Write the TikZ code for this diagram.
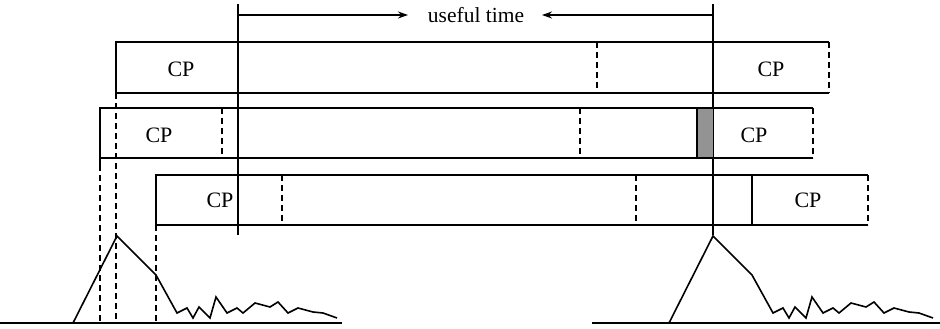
\documentclass[tikz,border=0pt]{standalone}
\usepackage{fontspec}
\setmainfont{Liberation Serif}
\usetikzlibrary{arrows.meta}
\begin{document}
\begin{tikzpicture}[x=1pt,y=-1pt,
  frame/.style={line width=1.3pt},
  marker/.style={line width=1.7pt},
  cut/.style={line width=1.3pt,dash pattern=on 6pt off 4pt},
  cplabel/.style={font=\fontsize{22}{22}\selectfont,inner sep=0pt},
  wave/.style={line width=1.6pt,line join=miter},
  tip/.style={-{Stealth[length=10pt,width=7pt,inset=3.5pt]}}]
\useasboundingbox (0,0) rectangle (940,329);

% time markers bounding the useful part of the symbol
\draw[marker] (238,4) coordinate (mL) -- (238,235);
\draw[marker] (713,4) coordinate (mR) -- (713,235);
\node[font=\fontsize{21.5}{21.5}\selectfont,inner sep=0pt] (ut) at (476,15) {useful time};
\coordinate (aL) at (408,15);
\coordinate (aR) at (542,15);
\draw[frame,tip] (238,15) -- (aL);
\draw[frame,tip] (713,15) -- (aR);

% first path
\draw[frame] (829,42) -- (116,42) -- (116,93) -- (829,93);
\draw[cut] (829,42) -- (829,93);
\draw[cut] (597,42) -- (597,93);
\node[cplabel] (cp1a) at (181,69) {CP};
\node[cplabel] (cp1b) at (771,69) {CP};

% second path
\fill[gray!85] (697,108) rectangle (713,158);
\draw[frame] (697,108) -- (697,158);
\draw[frame] (813,108) -- (100,108) -- (100,165);
\draw[frame] (100,158) -- (813,158);
\draw[cut] (813,108) -- (813,158);
\draw[cut] (222,108) -- (222,158);
\draw[cut] (580,108) -- (580,158);
\node[cplabel] (cp2a) at (159,135) {CP};
\node[cplabel] (cp2b) at (754,135) {CP};

% third path
\draw[frame] (868,175) -- (156,175) -- (156,225) -- (868,225);
\draw[cut] (868,175) -- (868,225);
\draw[cut] (282,175) -- (282,225);
\draw[cut] (636,175) -- (636,225);
\draw[frame] (752,175) -- (752,225);
\node[cplabel] (cp3a) at (220,200) {CP};
\node[cplabel] (cp3b) at (808,200) {CP};

% arrival instants projected onto the channel profile
\draw[cut] (100,165) -- (100,323);
\draw[cut] (116,93) -- (116,323);
\draw[cut] (156,225) -- (156,323);

% time axes
\draw[frame] (0,323) -- (342,323);
\draw[frame] (592,323) -- (940,323);

% channel impulse responses
\foreach \s in {0,596}{
  \draw[wave,xshift=\s] (73,323) -- (117,236) -- (156,275) -- (177,313)
    -- (187,308) -- (193,318) -- (199,307) -- (210,318) -- (216,297)
    -- (227,313) -- (237,308) -- (243,313) -- (255,303) -- (270,307)
    -- (278,302) -- (288,313) -- (298,308) -- (313,312) -- (323,313)
    -- (337,318);
}
\end{tikzpicture}
\end{document}
